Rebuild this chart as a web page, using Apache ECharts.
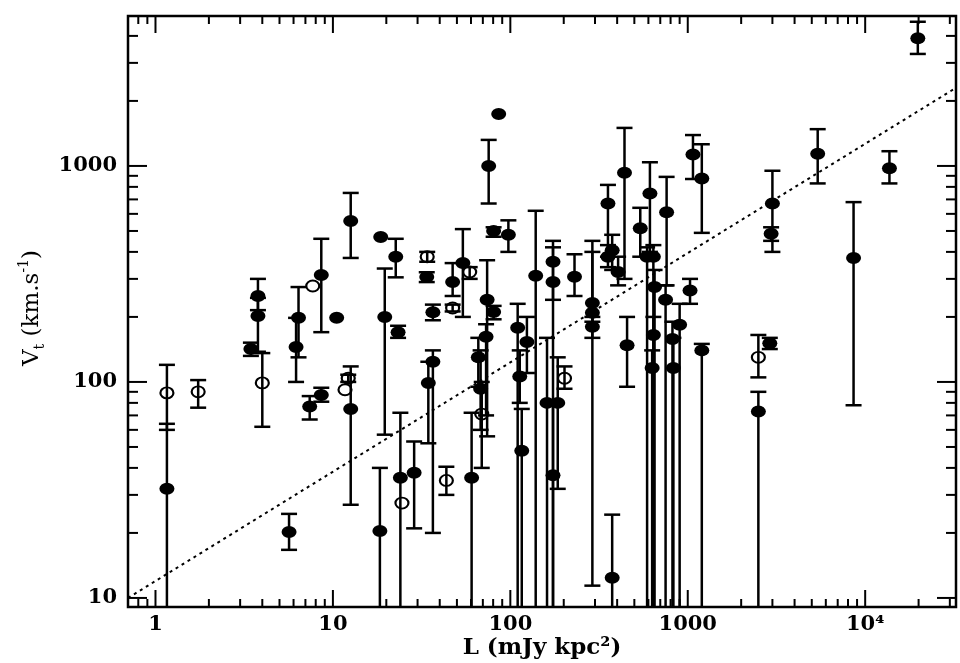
<!DOCTYPE html>
<html>
<head>
<meta charset="utf-8">
<script src="https://cdn.jsdelivr.net/npm/echarts@6/dist/echarts.min.js"></script>
<style>
html, body { margin: 0; padding: 0; background: #fff; }
#chart { width: 960px; height: 663px; }
</style>
</head>
<body>
<div id="chart"></div>
<script>
// axis ranges (L in mJy kpc^2, Vt in km/s)
var xRange = [0.7, 32500];
var yRange = [9.08, 4945];

// tick values and labels
var xMajor = [1, 10, 100, 1000, 10000];
var xLabels = ['1', '10', '100', '1000', '10⁴'];
var xMinor = [0.8, 0.9, 2, 3, 4, 5, 6, 7, 8, 9, 20, 30, 40, 50, 60, 70, 80, 90,
    200, 300, 400, 500, 600, 700, 800, 900, 2000, 3000, 4000, 5000, 6000, 7000, 8000, 9000,
    20000, 30000];
var yMajor = [10, 100, 1000];
var yLabels = ['10', '100', '1000'];
var yMinor = [20, 30, 40, 50, 60, 70, 80, 90, 200, 300, 400, 500, 600, 700, 800, 900,
    2000, 3000, 4000];

// [L, Vt, lower, upper]  lower 0 = error bar runs off the bottom of the plot
var filledPts = [
    [1.16, 32, 0, 64],
    [3.45, 142, 132, 152],
    [3.78, 250, 215, 300],
    [3.78, 202, 138, 245],
    [5.66, 20.2, 16.7, 24.5],
    [6.4, 198, 130, 275],
    [6.2, 145, 100, 198],
    [8.6, 313, 170, 460],
    [8.6, 87, 81, 94],
    [7.4, 77, 67, 86],
    [10.5, 198, 198, 198],
    [12.6, 556, 375, 750],
    [12.6, 75, 27, 118],
    [18.6, 469, 469, 469],
    [22.6, 380, 305, 460],
    [19.6, 200, 57, 335],
    [23.3, 170, 160, 182],
    [18.4, 20.4, 0, 40],
    [24, 36, 0, 72],
    [28.7, 38, 21, 53],
    [36.6, 124, 20, 140],
    [34.5, 99, 52, 124],
    [33.8, 306, 290, 322],
    [36.6, 210, 193, 228],
    [47.3, 290, 250, 355],
    [54, 355, 200, 510],
    [60.5, 36, 0, 72],
    [66, 130, 95, 160],
    [68, 93, 60, 140],
    [73, 162, 70, 185],
    [74, 240, 56, 366],
    [80.5, 211, 195, 225],
    [75.5, 1000, 670, 1320],
    [86, 1740, 1740, 1740],
    [80.5, 500, 470, 520],
    [97.5, 480, 400, 560],
    [139, 310, 0, 620],
    [110, 178, 0, 230],
    [124, 153, 110, 200],
    [113, 106, 80, 140],
    [116, 48, 0, 75],
    [174, 360, 0, 450],
    [174, 290, 240, 420],
    [161, 80, 0, 160],
    [174, 37, 0, 80],
    [185, 80, 32, 130],
    [230, 307, 250, 390],
    [290, 232, 11.4, 450],
    [290, 209, 190, 400],
    [290, 180, 160, 200],
    [355, 670, 380, 817],
    [375, 407, 330, 480],
    [355, 380, 340, 430],
    [405, 323, 280, 380],
    [440, 930, 300, 1500],
    [455, 148, 95, 200],
    [375, 12.4, 0, 24.3],
    [540, 515, 380, 640],
    [612, 745, 400, 1040],
    [590, 380, 0, 420],
    [640, 380, 0, 430],
    [650, 275, 0, 330],
    [640, 165, 0, 200],
    [630, 116, 0, 140],
    [750, 240, 0, 280],
    [760, 610, 280, 890],
    [820, 158, 0, 190],
    [830, 116, 0, 160],
    [900, 184, 0, 230],
    [1030, 265, 230, 300],
    [1070, 1130, 870, 1390],
    [1200, 875, 490, 1260],
    [1200, 140, 0, 150],
    [2500, 73, 0, 90],
    [3000, 670, 400, 950],
    [2950, 485, 450, 520],
    [2900, 151, 142, 160],
    [5400, 1140, 830, 1480],
    [8600, 375, 78, 680],
    [13700, 975, 830, 1170],
    [19800, 3900, 3300, 4650]
];

var openPts = [
    [1.16, 89, 60, 120],
    [1.74, 90, 76, 102],
    [4.0, 99, 62, 136],
    [7.7, 278, 278, 278],
    [12.2, 104, 100, 108],
    [11.7, 92, 92, 92],
    [24.5, 27.5, 27.5, 27.5],
    [34, 380, 360, 400],
    [43.6, 35, 30, 40.5],
    [47.3, 220, 212, 228],
    [59, 323, 300, 340],
    [69, 71, 40, 100],
    [202, 104, 93, 118],
    [2500, 130, 105, 165]
];

// dotted relation, end points
var fitLine = [[0.7, 10.0], [32500, 2300]];

var chart = echarts.init(document.getElementById('chart'));

function pickLabel(values, labels) {
    return function (v) {
        for (var i = 0; i < values.length; i++) {
            if (Math.abs(Math.log10(v) - Math.log10(values[i])) < 0.01) return labels[i];
        }
        return '';
    };
}

function errorBar(params, api) {
    var cs = params.coordSys;
    var L = api.value(0), lo = api.value(2), hi = api.value(3);
    if (lo === hi) return null;
    var x = api.coord([L, api.value(1)])[0];
    var yTop = api.coord([L, hi])[1];
    var yBot = lo > 0 ? api.coord([L, lo])[1] : cs.y + cs.height;
    var st = { stroke: '#000', lineWidth: 2.5 };
    var kids = [
        { type: 'line', shape: { x1: x, y1: yTop, x2: x, y2: yBot }, style: st },
        { type: 'line', shape: { x1: x - 8, y1: yTop, x2: x + 8, y2: yTop }, style: st }
    ];
    if (lo > 0) {
        kids.push({ type: 'line', shape: { x1: x - 8, y1: yBot, x2: x + 8, y2: yBot }, style: st });
    }
    return { type: 'group', children: kids };
}

function tickSeries(vals, isX, len) {
    return {
        type: 'custom',
        silent: true,
        z: 5,
        data: vals.map(function (v) { return isX ? [v, yRange[0]] : [xRange[0], v]; }),
        renderItem: function (params, api) {
            var cs = params.coordSys;
            var p = api.coord([api.value(0), api.value(1)]);
            var st = { stroke: '#000', lineWidth: 2 };
            if (isX) {
                var b = cs.y + cs.height;
                return { type: 'group', children: [
                    { type: 'line', shape: { x1: p[0], y1: b, x2: p[0], y2: b - len }, style: st },
                    { type: 'line', shape: { x1: p[0], y1: cs.y, x2: p[0], y2: cs.y + len }, style: st }
                ] };
            }
            var r = cs.x + cs.width;
            return { type: 'group', children: [
                { type: 'line', shape: { x1: cs.x, y1: p[1], x2: cs.x + len, y2: p[1] }, style: st },
                { type: 'line', shape: { x1: r, y1: p[1], x2: r - len, y2: p[1] }, style: st }
            ] };
        }
    };
}

var serif = 'DejaVu Serif';

var option = {
    animation: false,
    backgroundColor: '#fff',
    grid: {
        left: 128, right: 4, top: 16, bottom: 56,
        show: true, borderColor: '#000', borderWidth: 2.5
    },
    xAxis: {
        type: 'log', logBase: 10, min: xRange[0], max: xRange[1],
        axisLine: { show: false }, axisTick: { show: false }, splitLine: { show: false },
        axisLabel: {
            margin: 7, color: '#000', fontFamily: serif, fontSize: 21, fontWeight: 'bold',
            formatter: pickLabel(xMajor, xLabels)
        }
    },
    yAxis: {
        type: 'log', logBase: 10, min: yRange[0], max: yRange[1],
        axisLine: { show: false }, axisTick: { show: false }, splitLine: { show: false },
        axisLabel: {
            margin: 11, color: '#000', fontFamily: serif, fontSize: 21, fontWeight: 'bold',
            formatter: pickLabel(yMajor, yLabels)
        }
    },
    graphic: [
        {
            type: 'text', x: 542, y: 648,
            style: {
                text: 'L (mJy kpc²)', fill: '#000',
                font: 'bold 23px "DejaVu Serif"',
                align: 'center', verticalAlign: 'middle'
            }
        },
        {
            type: 'text', x: 32, y: 308, rotation: Math.PI / 2,
            style: {
                text: '{m|V}{s|t}{m| (km.s}{p|-1}{m|)}',
                align: 'center', verticalAlign: 'middle',
                rich: {
                    m: { fontFamily: serif, fontSize: 23, lineHeight: 30, fill: '#000', color: '#000' },
                    s: { fontFamily: serif, fontSize: 14, lineHeight: 14, verticalAlign: 'bottom', fill: '#000', color: '#000' },
                    p: { fontFamily: serif, fontSize: 14, lineHeight: 14, verticalAlign: 'top', fill: '#000', color: '#000' }
                }
            }
        }
    ],
    series: [
        tickSeries(xMajor, true, 17),
        tickSeries(xMinor, true, 8),
        tickSeries(yMajor, false, 19),
        tickSeries(yMinor, false, 10),
        {
            type: 'line',
            data: fitLine,
            symbol: 'none',
            silent: true,
            clip: true,
            lineStyle: { color: '#000', width: 2, type: [3, 4] },
            z: 2
        },
        {
            type: 'custom', name: 'bars filled', clip: true, silent: true, z: 3,
            data: filledPts, renderItem: errorBar
        },
        {
            type: 'custom', name: 'bars open', clip: true, silent: true, z: 3,
            data: openPts, renderItem: errorBar
        },
        {
            type: 'scatter', name: 'filled', clip: true, silent: true, z: 4,
            data: filledPts.map(function (p) { return [p[0], p[1]]; }),
            symbol: 'circle', symbolSize: [15, 12],
            itemStyle: { color: '#000', opacity: 1 }
        },
        {
            type: 'scatter', name: 'open', clip: true, silent: true, z: 4,
            data: openPts.map(function (p) { return [p[0], p[1]]; }),
            symbol: 'circle', symbolSize: [13, 11],
            itemStyle: { color: 'rgba(0,0,0,0)', borderColor: '#000', borderWidth: 2, opacity: 1 }
        }
    ]
};

chart.setOption(option);
</script>
</body>
</html>
